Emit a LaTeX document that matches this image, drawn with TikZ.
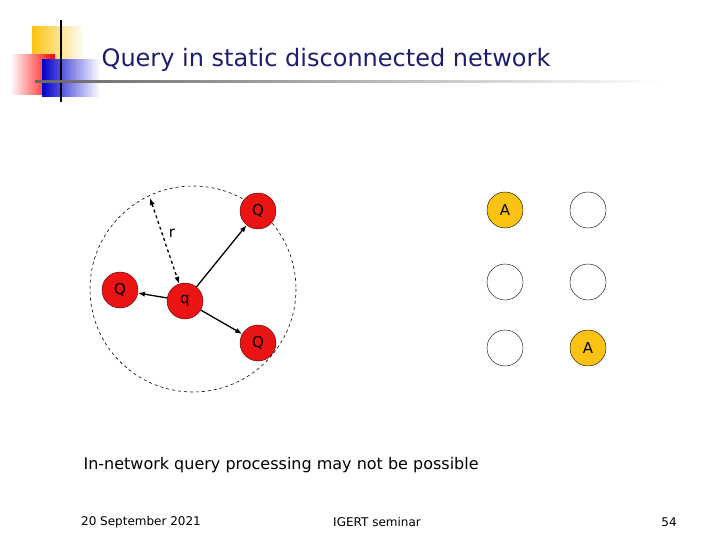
\documentclass[tikz,border=0pt]{standalone}
\usepackage{fontspec}
\setmainfont{DejaVu Sans}
\usetikzlibrary{arrows.meta}
\definecolor{titleblue}{RGB}{30,30,110}
\definecolor{nodered}{RGB}{235,20,20}
\definecolor{nodegold}{RGB}{250,195,20}
\tikzset{
    sensor/.style={circle, draw=black!70!red, fill=nodered, minimum size=36pt, inner sep=0pt, font=\fontsize{15}{15}\selectfont},
    answer/.style={circle, draw=black, fill=nodegold, minimum size=36pt, inner sep=0pt, font=\fontsize{15}{15}\selectfont},
    idle/.style={circle, draw=black, fill=white, minimum size=36pt, inner sep=0pt},
    link/.style={-{Latex[length=7pt]}, line width=1.3pt},
}
\begin{document}
\begin{tikzpicture}[x=1pt,y=-1pt]
    \useasboundingbox (0,0) rectangle (720,540);
    % logo
    \fill [left color=nodegold, right color=white] (32,27) rectangle (85,60);
    \fill [left color=white, right color=red] (10,55) rectangle (55,95);
    \fill [left color=blue!80!black, right color=white] (42,60) rectangle (100,97);
    \draw [line width=1.5pt] (61,20) -- (61,102);
    \fill [left color=black!60, right color=white] (35,81) rectangle (665,83);
    % title
    \node [font=\fontsize{24}{24}\selectfont, text=titleblue] (title) at (326,60) {Query in static disconnected network};
    % range
    \draw [dashed, line width=0.6pt] (193,289) circle [radius=103];
    % nodes
    \node [sensor] (q)  at (185,301) {q};
    \node [sensor] (qw) at (120,290) {Q};
    \node [sensor] (qn) at (258,211) {Q};
    \node [sensor] (qs) at (258,343) {Q};
    \coordinate (edge) at (150,198);
    \draw [{Latex[length=7pt]}-{Latex[length=7pt]}, line width=1.3pt, dashed] (edge) -- (q);
    \node [font=\fontsize{15}{15}\selectfont] (r) at (172,233) {r};
    \draw [link] (q) -- (qw);
    \draw [link] (q) -- (qn);
    \draw [link] (q) -- (qs);
    % other nodes
    \node [answer] (a1) at (505,210) {A};
    \node [idle]   (b1) at (588,210) {};
    \node [idle]   (b2) at (505,282) {};
    \node [idle]   (b3) at (588,282) {};
    \node [idle]   (b4) at (505,348) {};
    \node [answer] (a2) at (588,348) {A};
    % caption and footer
    \node [anchor=west, font=\fontsize{16}{16}\selectfont] (caption) at (80,465) {In-network query processing may not be possible};
    \node [font=\fontsize{12}{12}\selectfont] (date) at (141,522) {20 September 2021};
    \node [font=\fontsize{12}{12}\selectfont] (event) at (377,522) {IGERT seminar};
    \node [font=\fontsize{12}{12}\selectfont] (page) at (669,522) {54};
\end{tikzpicture}
\end{document}
